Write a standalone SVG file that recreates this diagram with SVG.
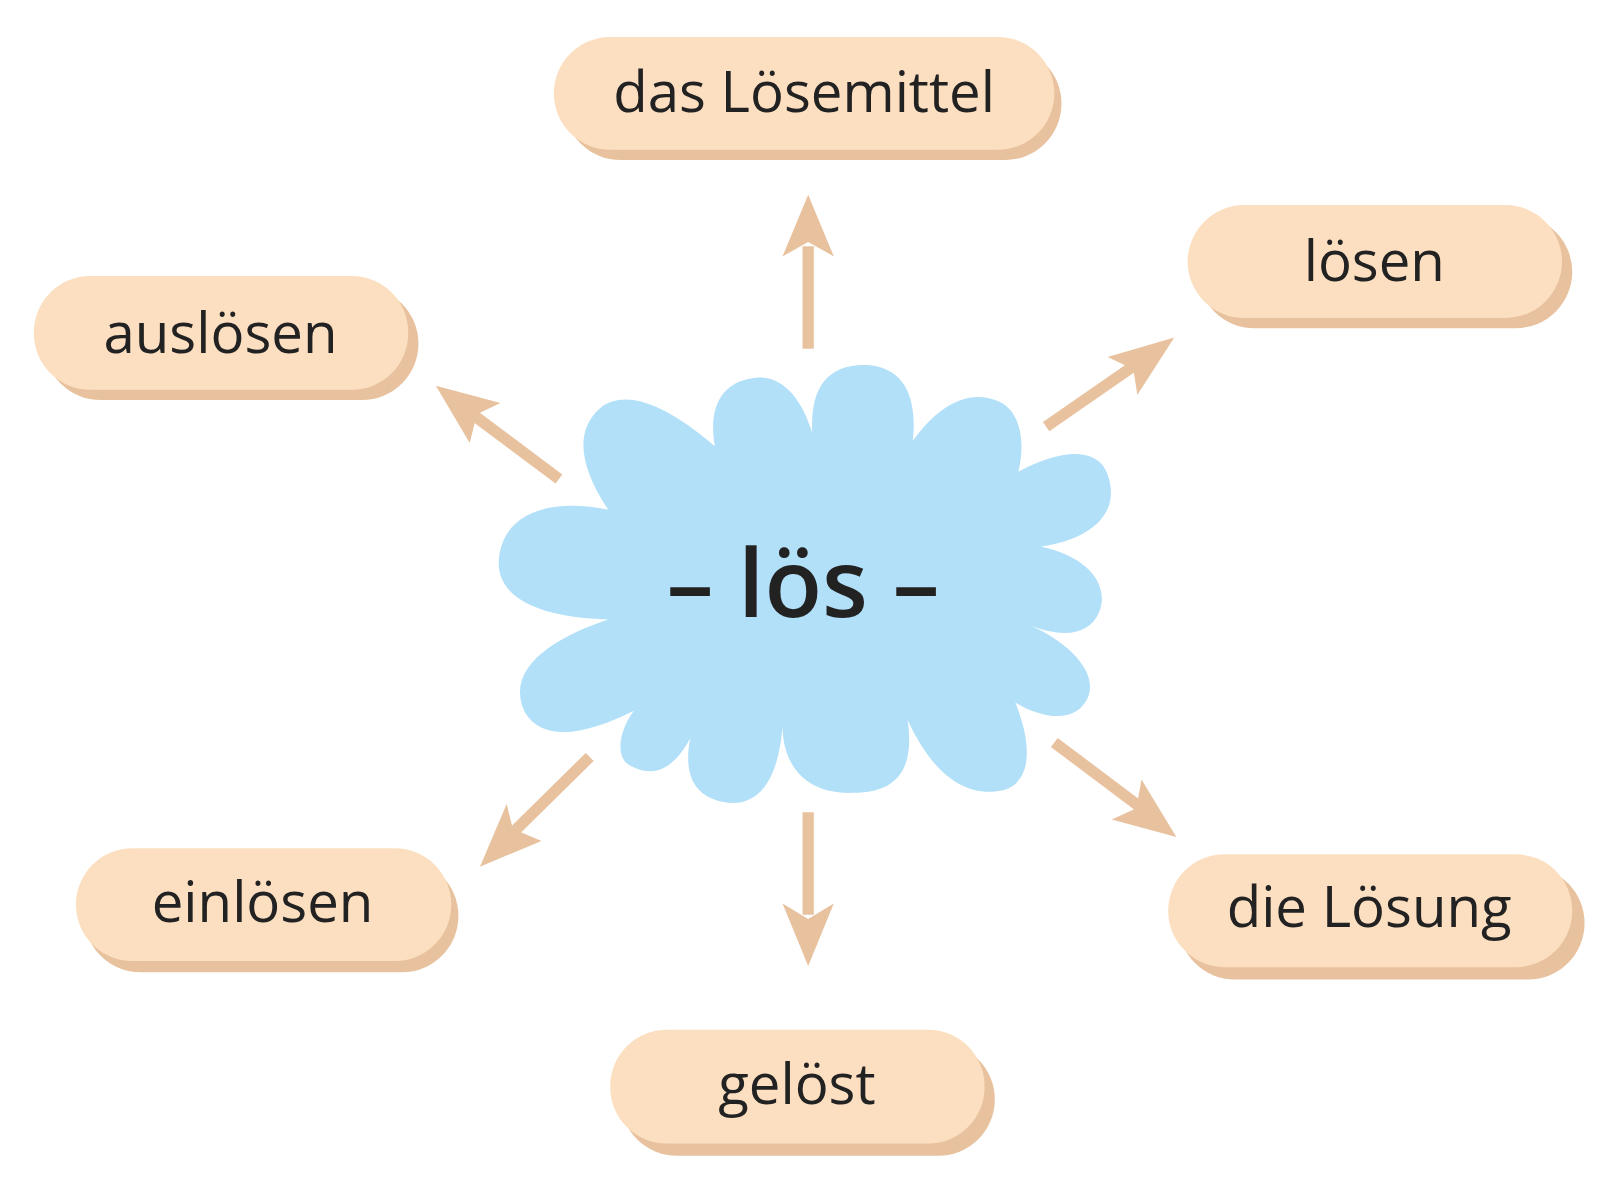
<svg xmlns="http://www.w3.org/2000/svg" width="1600" height="1196" viewBox="0 0 1600 1196">
<style>
.sh{fill:#e8c29e}.pl{fill:#fcdfc0}
.t{font-family:"Open Sans","DejaVu Sans",sans-serif;font-size:55px;fill:#222;text-anchor:middle}
.ar{fill:#e8c29e;stroke:none}
.ln{stroke:#e8c29e;stroke-width:11;fill:none}
</style>
<rect width="1600" height="1196" fill="#fff"/>
<g transform="scale(1.0256)">
<g id="center">
<path fill="#b3e0f9" d="M593,497 C565,455 560,420 585,398 C610,378 650,395 697,435 C690,395 705,370 740,368 C765,368 782,390 792,422 C790,380 805,355 845,356 C880,358 895,385 890,430 C915,395 945,378 975,392 C995,402 1000,430 993,460 C1030,440 1065,435 1078,458 C1095,495 1070,525 1015,533 C1060,542 1082,570 1072,596 C1063,620 1035,622 1005,610 C1045,628 1075,660 1058,685 C1045,705 1015,700 990,685 C1005,722 1008,760 980,770 C940,780 908,752 885,702 C892,750 875,773 832,773 C785,775 763,745 763,708 C760,750 745,790 705,782 C670,775 668,745 673,720 C658,747 640,760 615,747 C598,738 605,710 618,693 C575,715 530,725 512,695 C490,650 545,620 593,604 C520,602 480,580 487,540 C495,495 545,487 593,497 Z"/>
<text x="783" y="602" font-family="'Open Sans','DejaVu Sans',sans-serif" font-size="92" font-weight="600" fill="#222" text-anchor="middle">– lös –</text>
</g>
<g id="connectors">
<line class="ln" x1="788" y1="340" x2="788" y2="240"/>
<polygon class="ar" points="788,190 813,250 788,236 763,250"/>
<line class="ln" x1="788" y1="792" x2="788" y2="892"/>
<polygon class="ar" points="788,942 763,881 788,896 813,881"/>
<line class="ln" x1="545" y1="467" x2="462" y2="405"/>
<polygon class="ar" points="425,376 488,393 465,404 458,432"/>
<line class="ln" x1="1020" y1="416" x2="1108" y2="355"/>
<polygon class="ar" points="1145,329 1109,385 1105,360 1080,348"/>
<line class="ln" x1="575" y1="738" x2="500" y2="812"/>
<polygon class="ar" points="468,845 494,784 500,808 528,820"/>
<line class="ln" x1="1028" y1="724" x2="1112" y2="787"/>
<polygon class="ar" points="1147,816 1084,799 1108,788 1113,760"/>
</g>
<g id="n1"><rect class="sh" x="550" y="46" width="485" height="110" rx="55"/><rect class="pl" x="540" y="36" width="488" height="110" rx="55"/><text class="t" x="784" y="109">das Lösemittel</text></g>
<g id="n2"><rect class="sh" x="1168" y="210" width="365" height="110" rx="55"/><rect class="pl" x="1158" y="200" width="365" height="110" rx="55"/><text class="t" x="1340" y="274">lösen</text></g>
<g id="n3"><rect class="sh" x="43" y="280" width="365" height="110" rx="55"/><rect class="pl" x="33" y="269" width="365" height="111" rx="55"/><text class="t" x="215" y="344">auslösen</text></g>
<g id="n4"><rect class="sh" x="82" y="838" width="365" height="110" rx="55"/><rect class="pl" x="74" y="827" width="366" height="110" rx="55"/><text class="t" x="256" y="899">einlösen</text></g>
<g id="n5"><rect class="sh" x="1149" y="845" width="396" height="110" rx="55"/><rect class="pl" x="1139" y="833" width="394" height="110" rx="55"/><text class="t" x="1335" y="904">die Lösung</text></g>
<g id="n6"><rect class="sh" x="605" y="1017" width="365" height="110" rx="55"/><rect class="pl" x="595" y="1004" width="365" height="111" rx="55"/><text class="t" x="777" y="1076">gelöst</text></g>
</g>
</svg>
